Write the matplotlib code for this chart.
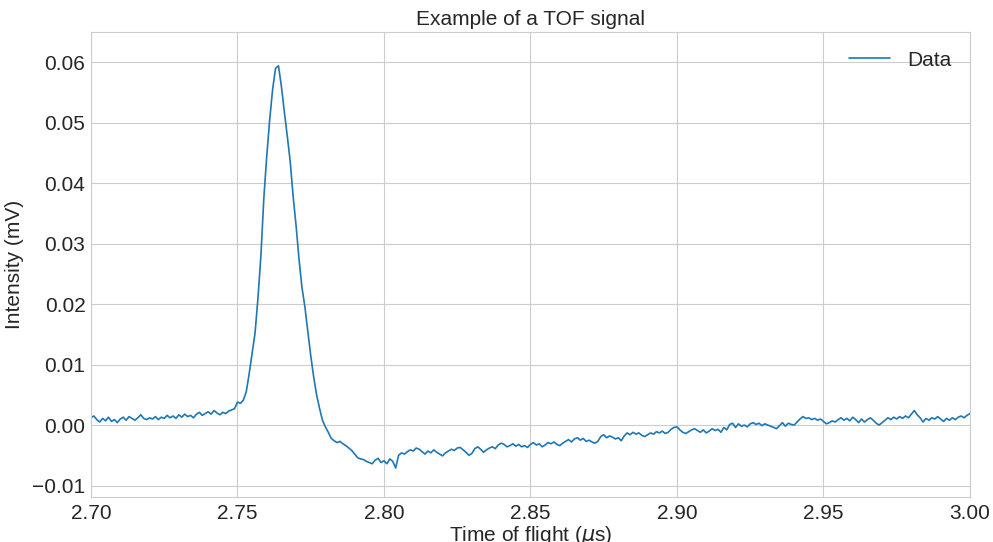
import numpy as np
import matplotlib
matplotlib.use("Agg")
import matplotlib.pyplot as plt
import seaborn as sns

# Time axis (µs), sampled every 1 ns from 2.700 to 3.000
time_us = np.arange(2700, 3001) / 1000.0

# Intensity (mV)
intensity = [
    0.0012, 0.0015, 0.0009, 0.0005, 0.0011, 0.0007, 0.0013, 0.0006, 0.0009, 0.0004,
    0.0010, 0.0013, 0.0008, 0.0014, 0.0011, 0.0008, 0.0012, 0.0017, 0.0011, 0.0009,
    0.0012, 0.0010, 0.0014, 0.0009, 0.0013, 0.0011, 0.0016, 0.0012, 0.0015, 0.0011,
    0.0017, 0.0013, 0.0018, 0.0014, 0.0016, 0.0012, 0.0018, 0.0021, 0.0016, 0.0019,
    0.0022, 0.0018, 0.0024, 0.0020, 0.0017, 0.0021, 0.0019, 0.0023, 0.0025, 0.0027,
    0.0038, 0.0036, 0.0041, 0.0055, 0.0085, 0.0119, 0.0152, 0.0210, 0.0280, 0.0375,
    0.0445, 0.0505, 0.0555, 0.0590, 0.0594, 0.0560, 0.0518, 0.0478, 0.0436, 0.0378,
    0.0330, 0.0275, 0.0228, 0.0196, 0.0155, 0.0115, 0.0080, 0.0050, 0.0028, 0.0008,
    -0.0003, -0.0012, -0.0022, -0.0026, -0.0029, -0.0027, -0.0031, -0.0034, -0.0038, -0.0042,
    -0.0048, -0.0054, -0.0056, -0.0057, -0.0060, -0.0062, -0.0064, -0.0058, -0.0055, -0.0062,
    -0.0059, -0.0064, -0.0056, -0.0060, -0.0071, -0.0050, -0.0046, -0.0048, -0.0044, -0.0041,
    -0.0043, -0.0038, -0.0040, -0.0044, -0.0048, -0.0043, -0.0046, -0.0041, -0.0045, -0.0048,
    -0.0051, -0.0046, -0.0043, -0.0040, -0.0042, -0.0038, -0.0037, -0.0041, -0.0045, -0.0050,
    -0.0047, -0.0039, -0.0036, -0.0040, -0.0045, -0.0041, -0.0038, -0.0036, -0.0039, -0.0033,
    -0.0030, -0.0032, -0.0036, -0.0034, -0.0031, -0.0035, -0.0032, -0.0036, -0.0034, -0.0037,
    -0.0032, -0.0029, -0.0033, -0.0031, -0.0036, -0.0033, -0.0029, -0.0031, -0.0028, -0.0032,
    -0.0034, -0.0030, -0.0027, -0.0024, -0.0028, -0.0023, -0.0021, -0.0025, -0.0022, -0.0027,
    -0.0025, -0.0028, -0.0030, -0.0027, -0.0019, -0.0016, -0.0021, -0.0018, -0.0020, -0.0023,
    -0.0021, -0.0026, -0.0018, -0.0013, -0.0016, -0.0012, -0.0015, -0.0013, -0.0017, -0.0019,
    -0.0016, -0.0013, -0.0015, -0.0011, -0.0013, -0.0010, -0.0014, -0.0012, -0.0007, -0.0004,
    -0.0003, -0.0008, -0.0012, -0.0014, -0.0011, -0.0008, -0.0006, -0.0009, -0.0012, -0.0008,
    -0.0013, -0.0010, -0.0006, -0.0009, -0.0007, -0.0012, -0.0004, -0.0008, 0.0001, 0.0003,
    -0.0004, 0.0002, -0.0002, 0.0000, -0.0003, 0.0002, 0.0004, 0.0001, 0.0003, -0.0001,
    0.0002, 0.0000, -0.0002, -0.0004, -0.0006, -0.0001, 0.0004, -0.0002, 0.0003, 0.0001,
    0.0000, 0.0005, 0.0010, 0.0014, 0.0011, 0.0012, 0.0009, 0.0011, 0.0008, 0.0010,
    0.0006, 0.0002, 0.0004, 0.0007, 0.0005, 0.0009, 0.0012, 0.0008, 0.0011, 0.0007,
    0.0013, 0.0009, 0.0004, 0.0010, 0.0005, 0.0009, 0.0012, 0.0008, 0.0003, 0.0000,
    0.0004, 0.0008, 0.0012, 0.0009, 0.0013, 0.0010, 0.0014, 0.0011, 0.0015, 0.0012,
    0.0018, 0.0024, 0.0017, 0.0012, 0.0005, 0.0011, 0.0008, 0.0012, 0.0010, 0.0014,
    0.0010, 0.0006, 0.0011, 0.0008, 0.0012, 0.0009, 0.0013, 0.0015, 0.0012, 0.0016,
    0.0019,
]

x_ticks = [2.70, 2.75, 2.80, 2.85, 2.90, 2.95, 3.00]
y_ticks = [-0.01, 0.00, 0.01, 0.02, 0.03, 0.04, 0.05, 0.06]

sns.set_style("whitegrid")
plt.rcParams['font.family'] = ['Liberation Sans', 'DejaVu Sans']

fig = plt.figure(figsize=(9.93, 5.42), dpi=100)
ax = fig.add_axes([0.0916, 0.083, 0.8852, 0.858])

ax.plot(time_us, intensity, color='#1f77b4', linewidth=1.2, label='Data')

ax.set_xlim(2.70, 3.00)
ax.set_ylim(-0.0119, 0.065)
ax.set_xticks(x_ticks)
ax.set_xticklabels([f"{v:.2f}" for v in x_ticks])
ax.set_yticks(y_ticks)
ax.tick_params(labelsize=15, colors='#262626')
ax.tick_params(axis='x', pad=1.5)
ax.tick_params(axis='y', pad=0.5)

ax.set_title('Example of a TOF signal', fontsize=15, color='#262626', pad=5)
ax.set_xlabel(r'Time of flight ($\mu$s)', fontsize=15, color='#262626', labelpad=1)
ax.set_ylabel('Intensity (mV)', fontsize=15, color='#262626', labelpad=6)

ax.legend(loc='upper right', fontsize=15, frameon=False)

fig.savefig('out.png', dpi=100)
